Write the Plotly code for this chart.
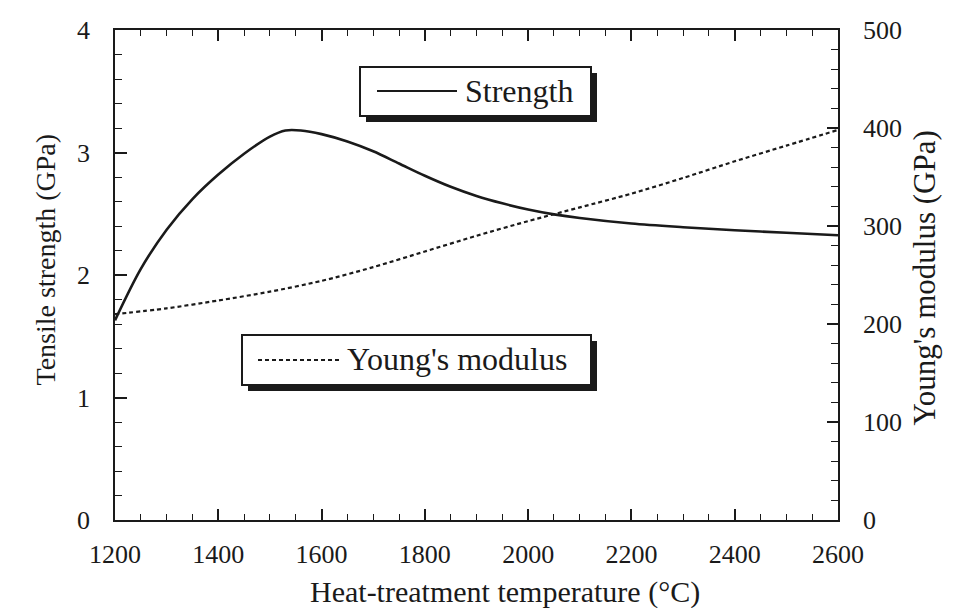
import plotly.graph_objects as go

# ---- data ----
temp_strength = [1200, 1250, 1300, 1350, 1400, 1450, 1500, 1530, 1560, 1600, 1650,
                 1700, 1750, 1800, 1850, 1900, 1950, 2000, 2050, 2100, 2200, 2300,
                 2400, 2500, 2600]
strength_gpa = [1.63, 2.05, 2.37, 2.62, 2.82, 2.99, 3.13, 3.18, 3.18, 3.15, 3.09,
                3.01, 2.91, 2.81, 2.72, 2.645, 2.585, 2.535, 2.495, 2.465, 2.42, 2.39,
                2.365, 2.345, 2.325]

temp_modulus = [1200, 1300, 1400, 1500, 1600, 1700, 1800, 1900, 2000,
                2100, 2200, 2300, 2400, 2500, 2600]
modulus_gpa = [210, 216, 224, 233, 244, 258, 274, 290, 305,
               319, 333, 349, 366, 382, 398]

x_tick_vals = [1200, 1400, 1600, 1800, 2000, 2200, 2400, 2600]
left_tick_vals = [0, 1, 2, 3, 4]
right_tick_vals = [0, 100, 200, 300, 400, 500]

legend_labels = ["Strength", "Young's modulus"]

# ---- layout geometry (page body has an 8 px margin) ----
OFF = 8
W, H = 960 - OFF, 608 - OFF
ML, MT = 115 - OFF, 30 - OFF
PW, PH = 723, 490
MR, MB = W - ML - PW, H - MT - PH


def px(x):
    return (x - OFF - ML) / PW


def py(y):
    return (MT + PH - (y - OFF)) / PH


FONT = "Liberation Serif"
INK = "#1a1a1a"

fig = go.Figure()
fig.add_trace(go.Scatter(
    x=temp_strength, y=strength_gpa, mode="lines", name=legend_labels[0],
    line=dict(color=INK, width=2.6, shape="spline", smoothing=0.9),
    yaxis="y", showlegend=False))
fig.add_trace(go.Scatter(
    x=temp_modulus, y=modulus_gpa, mode="lines", name=legend_labels[1],
    line=dict(color=INK, width=2.2, dash="4px,3px", shape="spline", smoothing=0.8),
    yaxis="y2", showlegend=False))

tickfont = dict(family=FONT, size=26, color=INK)

fig.update_layout(
    width=W, height=H,
    margin=dict(l=ML, r=MR, t=MT, b=MB, autoexpand=False),
    paper_bgcolor="white", plot_bgcolor="white",
    xaxis=dict(range=[1200, 2600], tickvals=x_tick_vals, showgrid=False, zeroline=False,
               showline=True, linecolor=INK, linewidth=1.8, mirror="ticks",
               ticks="inside", ticklen=11, tickwidth=1.5, tickcolor=INK,
               minor=dict(dtick=50, ticks="inside", ticklen=6, tickwidth=1.2, tickcolor=INK),
               tickfont=tickfont, ticklabelstandoff=10),
    yaxis=dict(range=[0, 4], tickvals=left_tick_vals, showgrid=False, zeroline=False,
               showline=True, linecolor=INK, linewidth=1.8,
               ticks="inside", ticklen=12, tickwidth=1.5, tickcolor=INK,
               minor=dict(dtick=0.2, ticks="inside", ticklen=7, tickwidth=1.2, tickcolor=INK),
               tickfont=tickfont, ticklabelstandoff=18),
    yaxis2=dict(range=[0, 500], tickvals=right_tick_vals, overlaying="y", side="right",
                showgrid=False, zeroline=False,
                showline=True, linecolor=INK, linewidth=1.8,
                ticks="inside", ticklen=11, tickwidth=1.5, tickcolor=INK,
                minor=dict(dtick=20, ticks="inside", ticklen=7, tickwidth=1.2, tickcolor=INK),
                tickfont=tickfont, ticklabelstandoff=18),
)

# axis titles
fig.add_annotation(text="Heat-treatment temperature (°C)", xref="paper", yref="paper",
                   x=px(505), y=py(610), yanchor="bottom", showarrow=False, borderpad=0,
                   font=dict(family=FONT, size=30, color=INK))
fig.add_annotation(text="Tensile strength (GPa)", xref="paper", yref="paper",
                   x=px(28), y=py(260), showarrow=False, textangle=-90,
                   font=dict(family=FONT, size=28, color=INK))
fig.add_annotation(text="Young's modulus (GPa)", xref="paper", yref="paper",
                   x=px(943), y=py(278), showarrow=False, textangle=-90,
                   font=dict(family=FONT, size=31, color=INK))

# legend boxes (with drop shadow)
shapes = []
boxes = [
    dict(x0=360, x1=591, y0=67, y1=116, sx0=377, sx1=457, sy=91, tx=463, ty=91, dash="solid"),
    dict(x0=242, x1=591, y0=335, y1=385, sx0=258, sx1=342, sy=360, tx=345, ty=359, dash="4px,3px"),
]
for i, b in enumerate(boxes):
    shapes.append(dict(type="rect", xref="paper", yref="paper",
                       x0=px(b["x0"] + 6), x1=px(b["x1"] + 6),
                       y0=py(b["y1"] + 6), y1=py(b["y0"] + 6),
                       fillcolor=INK, line=dict(width=0)))
    shapes.append(dict(type="rect", xref="paper", yref="paper",
                       x0=px(b["x0"]), x1=px(b["x1"]), y0=py(b["y1"]), y1=py(b["y0"]),
                       fillcolor="white", line=dict(color=INK, width=2)))
    shapes.append(dict(type="line", xref="paper", yref="paper",
                       x0=px(b["sx0"]), x1=px(b["sx1"]), y0=py(b["sy"]), y1=py(b["sy"]),
                       line=dict(color=INK, width=2.2, dash=b["dash"])))
    fig.add_annotation(text=legend_labels[i], xref="paper", yref="paper",
                       x=px(b["tx"]), y=py(b["ty"]), xanchor="left", yanchor="middle",
                       showarrow=False, font=dict(family=FONT, size=32, color=INK))
fig.update_layout(shapes=shapes)

fig.write_html("out.html")
